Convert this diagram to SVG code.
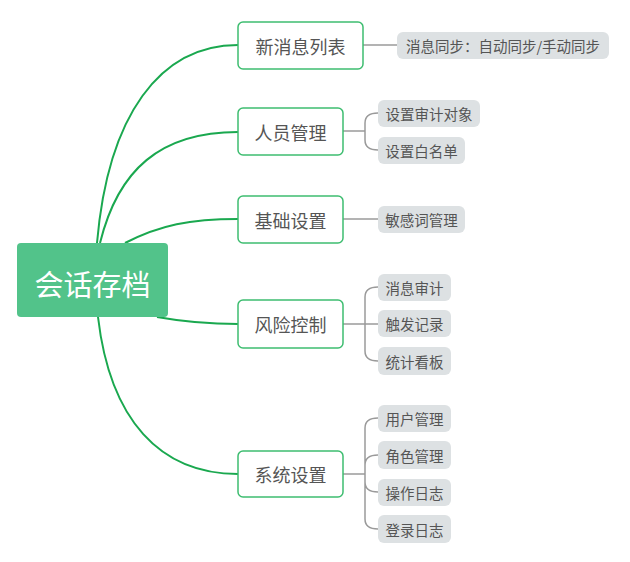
<svg xmlns="http://www.w3.org/2000/svg" width="630" height="562" viewBox="0 0 630 562">
<style>
text{font-family:"Microsoft YaHei","Noto Sans CJK SC",sans-serif;dominant-baseline:central;text-anchor:middle}
.root rect{fill:#52c38a}
.root text{fill:#fff;font-size:29px}
.l1 rect{fill:#fff;stroke:#3ebd70;stroke-width:1.5}
.l1 text{fill:#555;font-size:18px}
.l2 rect{fill:#dde1e3}
.l2 text{fill:#555;font-size:14.5px}
.main{fill:none;stroke:#1aa84f;stroke-width:2}
.sub{fill:none;stroke:#9a9a9a;stroke-width:1.5}
</style>
<rect width="630" height="562" fill="#fff"/>
<g id="connectors">
<path class="main" d="M97,243 C108,115 160,45 238,45"/>
<path class="main" d="M100,243 C118,170 160,132 238,132"/>
<path class="main" d="M125,243 C160,225 190,219 238,219"/>
<path class="main" d="M157,317 C185,322 205,324 238,324"/>
<path class="main" d="M98,317 C110,420 160,474 238,474"/>
<path class="sub" d="M363,45 H397"/>
<path class="sub" d="M343,131 H365 M365,131 V123 Q365,113 378,113 M365,131 V140 Q365,150 378,150"/>
<path class="sub" d="M343,219 H378"/>
<path class="sub" d="M343,324 H378 M365,324 V297 Q365,287 378,287 M365,324 V351 Q365,361 378,361"/>
<path class="sub" d="M343,474 H365 M365,474 V428 Q365,418 378,418 M365,474 V465 Q365,455 378,455 M365,474 V482 Q365,492 378,492 M365,474 V519 Q365,529 378,529"/>
</g>
<g id="root" class="root"><rect x="17" y="243" width="151" height="74" rx="4"/><text x="92.5" y="283">会话存档</text></g>
<g id="n1" class="l1"><rect x="238" y="22" width="125" height="47" rx="5"/><text x="300.5" y="45.5">新消息列表</text></g>
<g id="n2" class="l1"><rect x="238" y="108" width="105" height="47" rx="5"/><text x="290.5" y="131.5">人员管理</text></g>
<g id="n3" class="l1"><rect x="238" y="196" width="105" height="47" rx="5"/><text x="290.5" y="219.5">基础设置</text></g>
<g id="n4" class="l1"><rect x="238" y="300" width="105" height="48" rx="5"/><text x="290.5" y="324">风险控制</text></g>
<g id="n5" class="l1"><rect x="238" y="451" width="105" height="46" rx="5"/><text x="290.5" y="474">系统设置</text></g>
<g id="n1a" class="l2"><rect x="397" y="32" width="212" height="27" rx="6"/><text x="503" y="45.5">消息同步：自动同步/手动同步</text></g>
<g id="n2a" class="l2"><rect x="378" y="100" width="102" height="27" rx="6"/><text x="429" y="113.5">设置审计对象</text></g>
<g id="n2b" class="l2"><rect x="378" y="137" width="87" height="27" rx="6"/><text x="421.5" y="150.5">设置白名单</text></g>
<g id="n3a" class="l2"><rect x="378" y="206" width="87" height="27" rx="6"/><text x="421.5" y="219.5">敏感词管理</text></g>
<g id="n4a" class="l2"><rect x="378" y="274" width="73" height="27" rx="6"/><text x="414.5" y="287.5">消息审计</text></g>
<g id="n4b" class="l2"><rect x="378" y="310" width="73" height="27" rx="6"/><text x="414.5" y="323.5">触发记录</text></g>
<g id="n4c" class="l2"><rect x="378" y="347" width="73" height="28" rx="6"/><text x="414.5" y="361">统计看板</text></g>
<g id="n5a" class="l2"><rect x="378" y="405" width="73" height="27" rx="6"/><text x="414.5" y="418.5">用户管理</text></g>
<g id="n5b" class="l2"><rect x="378" y="441" width="73" height="28" rx="6"/><text x="414.5" y="455">角色管理</text></g>
<g id="n5c" class="l2"><rect x="378" y="479" width="73" height="27" rx="6"/><text x="414.5" y="492.5">操作日志</text></g>
<g id="n5d" class="l2"><rect x="378" y="515" width="73" height="28" rx="6"/><text x="414.5" y="529">登录日志</text></g>
</svg>
